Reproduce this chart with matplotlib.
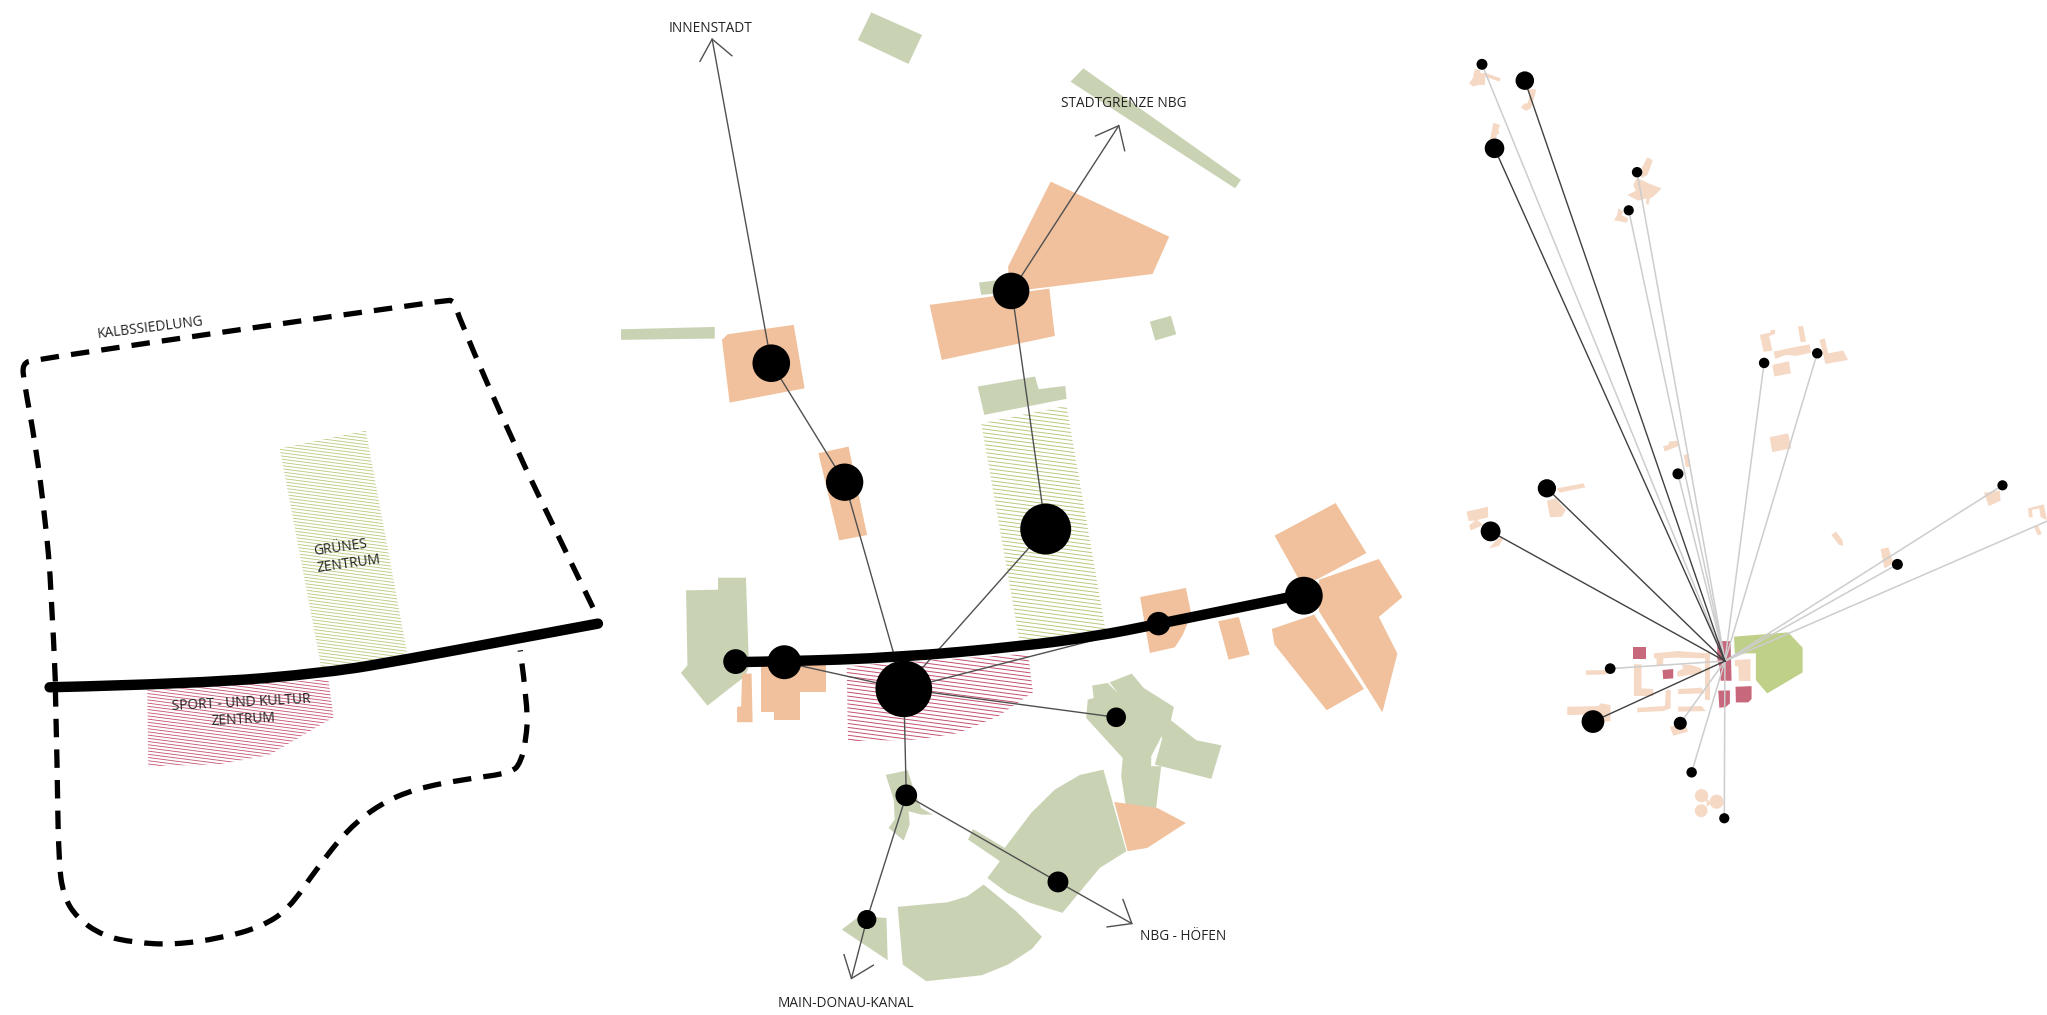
import matplotlib
matplotlib.use('Agg')
import matplotlib.pyplot as plt
import numpy as np
from matplotlib.collections import LineCollection
from matplotlib.patches import Circle, PathPatch, Polygon
from matplotlib.path import Path

plt.rcParams['font.family'] = ['Open Sans', 'DejaVu Sans']

ORANGE = '#f0c19c'
SAGE = '#c9d3b4'
PEACH = '#f5d9c5'
PINK = '#c8687c'
LEAF = '#bfd088'
HATCH_GREEN = '#b7c97c'
HATCH_RED = '#c4506e'
LINE_DARK = '#505050'
LINE_LIGHT = '#cdcdcd'

# Left diagram
boundary_upper = [(42.4, 522.4), (39.4, 450.6), (34.8, 399.3), (27.3, 341.1), (18.2, 291.5), (17.2, 279),
                  (25.8, 275.5), (340.9, 230), (348, 230.5), (351.5, 243.7), (393.9, 341.1), (430.3, 416.4),
                  (456, 469.4)]
boundary_lower = [(42.4, 527.5), (43.9, 590.8), (44.8, 659.2), (48.5, 686.6), (59, 703.7), (78.8, 717.3),
                  (103, 722.5), (133.3, 724.2), (169.7, 719), (200, 710.5), (221.2, 696.8), (242.4, 666),
                  (266.7, 635.3), (290.9, 616.4), (318.2, 604.5), (357.6, 597), (392, 592.5), (399, 584),
                  (403, 566.9), (404.5, 542.9), (398.5, 498.5)]
road_left = [(38, 526.8), (151.5, 524.1), (251.5, 515.6), (312.1, 505.3), (393.9, 489.9), (458, 478)]
hatch_green_left = [(214.2, 343.5), (280.3, 330.2), (312.1, 501.9), (246, 511.5)]
hatch_red_left = [(112.7, 529.2), (251.5, 520.7), (255.5, 549.8), (206, 578.8), (169.7, 585.7), (113.6, 587.4)]

# Middle diagram
sage_shapes = [
    [(667.4, 9.5), (706.3, 26.8), (695.9, 49), (657.1, 30.7)],
    [(829.9, 52.4), (950.6, 137.9), (946.1, 144.3), (820, 62.6)],
    [(749.9, 216.6), (765.3, 214.6), (765.3, 224.8), (751.6, 226)],
    [(880.8, 246.5), (896.9, 242.1), (901, 256.2), (884.9, 261)],
    [(475.7, 252.4), (547.5, 250.6), (547.5, 259.5), (475.7, 260.5)],
    [(748.9, 296.3), (792.8, 288.6), (795.6, 298.3), (816, 295.8), (817, 305.7), (754, 318)],
    [(525.5, 452.5), (550, 452), (550, 442.8), (571.4, 442.8), (573.7, 510.7), (570.7, 518.4), (541.9, 540.9),
     (521.6, 515.8), (526.6, 510)],
    [(836.6, 525.5), (848.5, 523.5), (889.5, 564.9), (881.8, 579.7), (881.8, 587.3), (889.5, 587.3), (885.6, 619.3),
     (862.7, 619.3), (858.8, 595), (860, 581), (832, 550.3), (833.2, 536.3), (837.8, 535)],
    [(850, 523), (866.9, 516.3), (876.1, 527.3), (899.2, 541.9), (896.9, 552.1), (916.4, 567.4), (935.6, 571.3),
     (927.9, 597), (884.6, 586.1), (890.4, 565.6), (867.4, 546.5)],
    [(845.2, 589.9), (862.8, 652.5), (842.5, 665.2), (813.8, 699.7), (788.9, 692), (771.7, 684.4), (756.3, 673),
     (765.9, 660.1), (741.5, 643.5), (745.3, 635.4), (769.6, 649.9), (789.9, 623.1), (808, 605.2), (827.2, 594)],
    [(678.5, 594), (695.3, 590.4), (699.9, 605.2), (705.6, 619.3), (714.4, 624.4), (705.6, 624.4), (696, 621.8),
     (696.8, 632), (692.2, 644.3), (680.7, 634.6), (685.3, 628.2), (684.6, 612.9)],
    [(687.6, 695.1), (725.9, 691.6), (740.9, 687), (753.5, 678), (778.4, 698.5), (798.2, 718.1), (790.5, 727.3),
     (772.2, 739.3), (752.2, 747.5), (709.5, 752.1), (691.5, 739.3)],
    [(644.8, 712.5), (658.2, 702.3), (679, 703.6), (680, 736)],
]
orange_shapes = [
    [(804.8, 139.2), (895.6, 181.4), (882.9, 210), (789.4, 221.7), (772.9, 217), (772.2, 204.3)],
    [(712.1, 233.7), (803.8, 221.2), (808, 257.5), (721.4, 275.9)],
    [(553, 260.5), (557.5, 256.2), (608, 249), (616.3, 297.6), (558.9, 308.6)],
    [(626.9, 347.4), (650, 342.3), (664.2, 410.1), (642.8, 414.2)],
    [(568.5, 516.3), (575.7, 516.3), (576.5, 553.6), (564.6, 553.6), (564.6, 541.9), (567.7, 541.4)],
    [(583.3, 505), (632.6, 505), (632.6, 530.6), (613.1, 530.6), (613.1, 551.6), (593.1, 551.6), (593.1, 545.5),
     (583.3, 545.5)],
    [(873.3, 457.6), (908.4, 450.7), (912.6, 471.1), (905.7, 487.2), (899.9, 496.2), (880.8, 500.5)],
    [(933.2, 476.2), (948.9, 472.9), (957.2, 501.8), (941.1, 505.6)],
    [(976.3, 410.6), (1023.1, 385.6), (1046.7, 423.9), (1008.5, 444.3), (995.1, 444.3)],
    [(1056.2, 428.5), (1074.2, 457.8), (1056.2, 472.9), (1070.4, 501), (1058.9, 546), (1010.4, 468.6), (1010.4, 444.3)],
    [(974.2, 482.1), (1006.6, 471.1), (1044.8, 528.1), (1016.2, 544.4), (976.3, 494.1)],
    [(853.5, 614.7), (886.5, 619.3), (908.3, 630.8), (878.9, 649.9), (863.7, 652.5)],
]
hatch_green_mid = [(751.6, 324.4), (816.9, 311.1), (848, 490), (782, 497.5)]
hatch_red_mid = [(648.5, 510.7), (787.5, 501), (791.3, 530.6), (764.6, 549), (734.2, 561.8), (703.7, 566.9), (649.6, 568.2)]
road_mid = [(563.5, 507.5), (600.8, 507), (688, 504), (782.5, 495.4), (839.3, 487.7), (885.2, 478.8), (989, 457.5)]

nodes_mid_x = [590.8, 647, 774.5, 801, 998.7, 692.3, 600.8, 563.5, 887.4, 855, 694.2, 810.4, 664]
nodes_mid_y = [278.4, 369.6, 223, 405.5, 456.6, 528, 507.6, 507.1, 478, 549.8, 609.6, 676, 704.8]
nodes_mid_r = [14.4, 14.3, 14, 19.5, 14.5, 21.7, 13, 9.5, 9, 7.5, 8.3, 8, 7.3]

links_mid = [
    [(590.8, 278.4), (545.5, 30)],
    [(590.8, 278.4), (647, 369.6), (692.3, 528)],
    [(857, 96.3), (775, 223), (801, 405.5), (692.3, 528)],
    [(600.8, 507.6), (692.3, 528), (887.4, 478)],
    [(692.3, 528), (855, 549.8)],
    [(692.3, 528), (694.2, 609.6), (810.4, 676), (867, 707.9)],
    [(694.2, 609.6), (664, 704.8), (652.2, 750)],
]
arrow_heads = [
    [(536.2, 47), (545.5, 30), (560.6, 42.7)],
    [(839.2, 104.2), (857, 96.3), (861.5, 115.5)],
    [(860.2, 689.5), (867, 707.9), (848, 710.5)],
    [(646.5, 731.7), (652.2, 750), (669, 739.8)],
]

# Right diagram
hub = (1321.3, 506.7)
dark_x = [1168, 1144.8, 1184.9, 1141.8, 1220.2]
dark_y = [61.8, 113.7, 374.3, 407.3, 553.1]
dark_r = [7.1, 7.5, 7, 7.6, 8.7]
light_x = [1135.2, 1254, 1247.6, 1351.3, 1392, 1285.3, 1533.9, 1453.4, 1233.4, 1287.1, 1295.8, 1320.8]
light_y = [49.3, 132, 161.2, 278.2, 270.8, 363.2, 372, 432.6, 512.5, 554.4, 592, 627.2]
light_r = [4.2, 4, 3.9, 4, 4, 4.2, 3.9, 4.2, 4.1, 5, 4, 3.9]
edge_line_end = (1568, 399.5)

peach_shapes = [
    # north-west cluster
    [(1129.8, 53.1), (1133.7, 53.6), (1134.2, 56.2), (1137.5, 55.7), (1149.5, 60), (1148.5, 62.6), (1137.5, 58.7),
     (1137.5, 65.1), (1132.4, 65.1), (1128.6, 66.4), (1125.3, 63.9), (1128.1, 60)],
    [(1170.7, 68.4), (1176.6, 68.4), (1175.8, 72.8), (1172.7, 83), (1168.9, 85), (1164.8, 82.2), (1168.1, 79.2),
     (1170.2, 79.2), (1171.5, 74.1)],
    [(1143.9, 94), (1149, 95.8), (1147.7, 99.6), (1148.5, 102.2), (1146.4, 103.5), (1146.4, 106.8), (1141.3, 106.8),
     (1142.6, 100.9)],
    [(1261.8, 120.6), (1265.9, 122.7), (1264.3, 127.8), (1261.8, 134.2), (1257.5, 136.7), (1257.5, 129)],
    [(1253.6, 136.7), (1257.5, 138), (1262.6, 140.5), (1272.8, 144.4), (1266.4, 150.8), (1263.8, 152), (1262.6, 157.2),
     (1260.8, 155.9), (1261.3, 152), (1254.9, 153.8), (1246.5, 149.5), (1253.1, 146.2), (1251.1, 141.8)],
    [(1239.6, 159.7), (1243.4, 162.3), (1242.1, 164.8), (1247.2, 167.4), (1246, 170.7), (1236.3, 168.7), (1238.8, 164.8)],
    # north-east cluster
    [(1348, 256.7), (1356.1, 254.9), (1356.4, 252.9), (1359.7, 252.9), (1359.7, 256), (1355.2, 257.5), (1357.6, 268.7),
     (1351, 269.7)],
    [(1377.2, 250.3), (1381.1, 249.8), (1383.5, 261.8), (1379.3, 262.3)],
    [(1358.5, 269.5), (1368.1, 267.4), (1386.2, 263.9), (1387.1, 270.3), (1375.7, 272.8), (1368.1, 272), (1360, 275.1)],
    [(1357.6, 279.7), (1370.3, 276.9), (1371.8, 286.1), (1359.1, 288.6)],
    [(1393.8, 260.6), (1397.7, 259.3), (1400.4, 270.8), (1411.9, 268.7), (1415.5, 275.9), (1398.3, 279)],
    [(1355.5, 335.1), (1369.7, 332.1), (1372.1, 343.6), (1357.6, 346.6)],
    [(1273.8, 342.3), (1278, 341), (1278.6, 338.5), (1285.3, 337.7), (1285.9, 341.8), (1275.3, 346.1)],
    [(1289.8, 348.7), (1293.4, 347.9), (1294.9, 357.6), (1291.3, 358.1)],
    # west
    [(1192.4, 374.3), (1212.9, 370.5), (1214.4, 373.5), (1194.9, 377.6)],
    [(1184.9, 383.8), (1191.8, 382), (1199.4, 390.9), (1196.4, 396), (1187.3, 396.5)],
    [(1123.4, 392.2), (1139.7, 388.4), (1140, 396.5), (1131.6, 398.6), (1136.1, 402.4), (1126.4, 406.7), (1125.5, 402.4),
     (1130, 399.1), (1124.9, 399.3)],
    [(1140.6, 420.3), (1148.1, 418.5), (1151.8, 412.6), (1149.6, 411.3), (1145.1, 415.2)],
    # east
    [(1402.8, 410), (1406.4, 407.5), (1411.3, 413.9), (1411.9, 418.5), (1408.8, 417.7)],
    [(1440.5, 421), (1446.5, 419.5), (1450.4, 431.8), (1443.5, 435.6)],
    [(1519.7, 377.6), (1531.8, 376.1), (1532.4, 383.8), (1523.4, 387.9)],
    [(1553.5, 389.6), (1565.5, 386.6), (1568, 398.6), (1563.2, 396.5), (1562, 389.6), (1556.5, 390.9), (1557.1, 396.5),
     (1554.1, 396.5)],
    [(1558, 403.7), (1561, 402.9), (1564, 409.3), (1561, 410.3)],
    # around the hub
    [(1266.9, 500.8), (1285.5, 499), (1307.2, 500.8), (1307.2, 504.6), (1281.7, 504.1), (1274, 504.6), (1274, 510.3),
     (1268.9, 510.3), (1268.9, 504.6), (1266.9, 504.6)],
    [(1306, 500.8), (1309.8, 500.8), (1309.8, 536.6), (1306, 536.6)],
    [(1251.6, 509.2), (1257.4, 509.2), (1257.4, 527.6), (1266.4, 528.2), (1266.4, 533.5), (1251.6, 533.5)],
    [(1254.1, 542.5), (1275.3, 541.2), (1276.1, 528.9), (1279.7, 528.9), (1279.7, 543), (1274, 545), (1254.1, 546)],
    [(1288.1, 509.2), (1295.7, 509.8), (1303.4, 512.3), (1303.4, 516.1), (1284.8, 518.7), (1284.8, 514.9), (1289.4, 512.3)],
    [(1285.5, 528.2), (1303.4, 527.1), (1306, 531.5), (1285.5, 532)],
    [(1285.5, 541.7), (1303.4, 541.2), (1306.7, 545), (1285.5, 545.5)],
    [(1200.5, 541.7), (1224.3, 541.2), (1226, 539.1), (1233.7, 540.4), (1233.7, 552.7), (1228.1, 553.2), (1223, 547.6),
     (1200.5, 548.1)],
    [(1214.8, 513.8), (1230.6, 513.6), (1230.6, 516.9), (1214.8, 517.4)],
    [(1279.1, 557), (1291.4, 555.2), (1292.9, 560.9), (1281.7, 563.9)],
    [(1328.9, 505.9), (1340.9, 505.2), (1340.9, 522), (1332, 522), (1331.5, 511), (1328.9, 510.3)],
    [(1307.2, 612), (1311, 615.8), (1307.2, 618.3)],
]
clover_x = [1303.4, 1314.9, 1303.1]
clover_y = [609.9, 614.5, 621.4]
clover_r = [5.1, 5.4, 4.9]
pink_shapes = [
    [(1250.6, 496), (1260.8, 496), (1260.8, 505.2), (1250.6, 505.2)],
    [(1273.5, 513.6), (1281.7, 512.8), (1281.7, 520), (1274, 520.5)],
    [(1315.4, 491.4), (1325.6, 491.4), (1326.4, 521.8), (1318, 521.8), (1317.4, 512.3), (1315.4, 504.6)],
    [(1316.2, 529.4), (1325.1, 529.2), (1325.1, 539.1), (1322, 541.9), (1317, 542.5)],
    [(1329.4, 526.4), (1341.7, 525.9), (1341.7, 535.8), (1339.1, 538.4), (1329.7, 538.4)],
]
leaf_shape = [(1328.2, 488), (1369.8, 484.7), (1380.8, 496.5), (1380.8, 515.4), (1353.7, 531.5), (1345, 521.3),
              (1345, 500.8), (1328.9, 500.8)]

labels = [
    ('KALBSSIEDLUNG', 115, 251.6, 7),
    ('GRÜNES', 260.5, 420, 8),
    ('ZENTRUM', 267, 432.5, 8),
    ('SPORT - UND KULTUR', 185.1, 539, 3),
    ('ZENTRUM', 186.4, 551.4, 3),
    ('INNENSTADT', 544, 22, 0),
    ('STADTGRENZE NBG', 861, 79.5, 0),
    ('NBG - HÖFEN', 906, 718, 0),
    ('MAIN-DONAU-KANAL', 648, 769.5, 0),
]


def add_shapes(ax, shapes, color, z=1):
    for shape in shapes:
        ax.add_patch(Polygon(shape, closed=True, facecolor=color, edgecolor='none', zorder=z))


def add_hatch(ax, shape, color, spacing, lw, slope=0.13):
    # thin slanted lines clipped to the shape
    pts = np.array(shape)
    x0, x1 = pts[:, 0].min(), pts[:, 0].max()
    y0, y1 = pts[:, 1].min(), pts[:, 1].max()
    starts = np.arange(y0 - slope * (x1 - x0) - spacing, y1 + spacing, spacing)
    segs = [[(x0, s), (x1, s + slope * (x1 - x0))] for s in starts]
    lines = LineCollection(segs, colors=color, linewidths=lw, zorder=2)
    ax.add_collection(lines)
    lines.set_clip_path(Polygon(shape, closed=True, transform=ax.transData))


def add_line(ax, pts, color, lw, **kwargs):
    xs, ys = zip(*pts)
    ax.plot(xs, ys, color=color, lw=lw, **kwargs)


def add_curve(ax, pts, lw, **kwargs):
    # quadratic pieces through the midpoints, keeps the corners soft
    pts = np.array(pts, dtype=float)
    verts = [pts[0]]
    codes = [Path.MOVETO]
    for i in range(1, len(pts) - 1):
        end = pts[i + 1] if i == len(pts) - 2 else (pts[i] + pts[i + 1]) / 2
        verts += [pts[i], end]
        codes += [Path.CURVE3, Path.CURVE3]
    ax.add_patch(PathPatch(Path(verts, codes), fill=False, edgecolor='black', lw=lw, **kwargs))


def add_nodes(ax, xs, ys, rs):
    for x, y, r in zip(xs, ys, rs):
        ax.add_patch(Circle((x, y), r, facecolor='black', edgecolor='none', zorder=6))


fig = plt.figure(figsize=(20.47, 10.15), dpi=100)
ax = fig.add_axes([0, 0, 1, 1])
ax.set_xlim(0, 1568)
ax.set_ylim(778, 0)
ax.axis('off')

# Left
add_hatch(ax, hatch_green_left, HATCH_GREEN, 2.45, 0.6)
add_hatch(ax, hatch_red_left, HATCH_RED, 2.45, 0.6)
for part in (boundary_upper, boundary_lower):
    add_curve(ax, part, 3.8, linestyle=(0, (3.5, 2.3)), capstyle='butt', zorder=4)
add_curve(ax, road_left, 7.5, capstyle='round', zorder=5)

# Middle
add_shapes(ax, sage_shapes, SAGE)
add_shapes(ax, orange_shapes, ORANGE)
add_hatch(ax, hatch_green_mid, HATCH_GREEN, 3.0, 0.7)
add_hatch(ax, hatch_red_mid, HATCH_RED, 3.0, 0.7)
for link in links_mid:
    add_line(ax, link, LINE_DARK, 1.0, zorder=3)
for head in arrow_heads:
    add_line(ax, head, LINE_DARK, 1.0, zorder=3)
add_curve(ax, road_mid, 7.5, capstyle='round', zorder=5)
add_nodes(ax, nodes_mid_x, nodes_mid_y, nodes_mid_r)

# Right
add_shapes(ax, peach_shapes, PEACH)
for x, y, r in zip(clover_x, clover_y, clover_r):
    ax.add_patch(Circle((x, y), r, facecolor=PEACH, edgecolor='none', zorder=1))
add_shapes(ax, pink_shapes, PINK, z=2)
ax.add_patch(Polygon(leaf_shape, closed=True, facecolor=LEAF, edgecolor='none', zorder=2))
for x, y in zip(light_x, light_y):
    add_line(ax, [hub, (x, y)], LINE_LIGHT, 1.1, zorder=3)
add_line(ax, [hub, edge_line_end], LINE_LIGHT, 1.1, zorder=3)
for x, y in zip(dark_x, dark_y):
    add_line(ax, [hub, (x, y)], '#404040', 1.0, zorder=4)
add_nodes(ax, light_x, light_y, light_r)
add_nodes(ax, dark_x, dark_y, dark_r)

for text, x, y, rot in labels:
    ax.text(x, y, text, fontsize=9.8, color='#222222', ha='center', va='center', rotation=rot,
            rotation_mode='anchor', zorder=7)

plt.savefig('out.png', dpi=100)
